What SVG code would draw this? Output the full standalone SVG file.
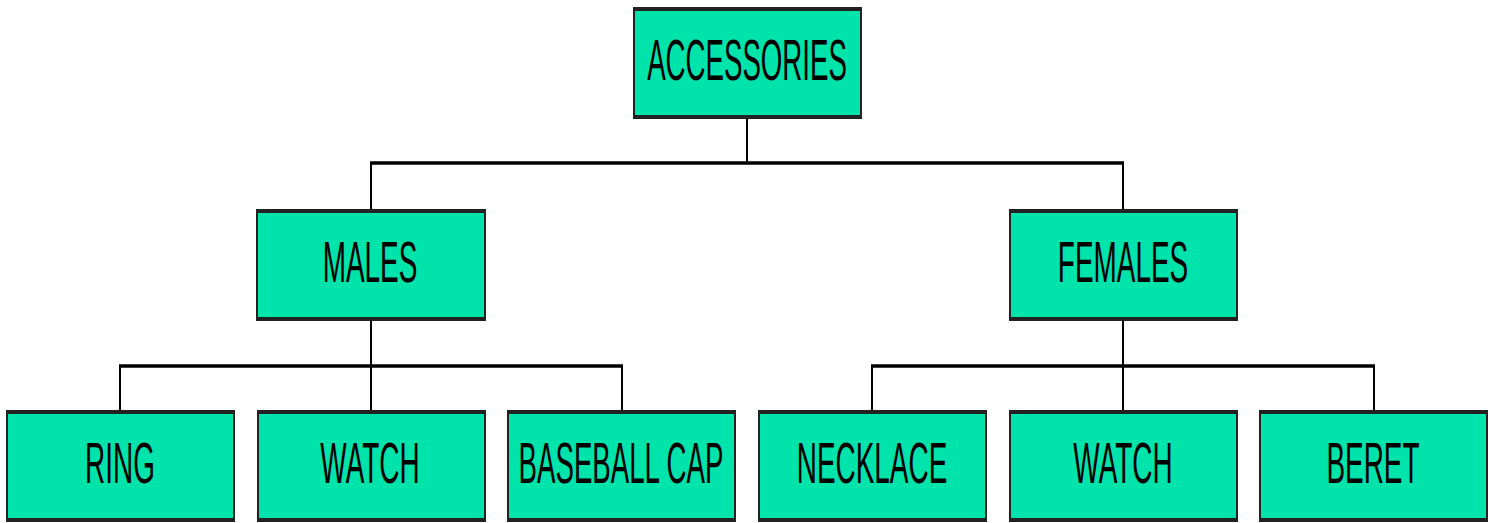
<svg xmlns="http://www.w3.org/2000/svg" width="1494" height="523" viewBox="0 0 1494 523">
<style>
.box{fill:#00E3AA;stroke:#222;stroke-width:2}
.edge{stroke:#222;stroke-width:4}
.lbl{font-family:"Liberation Sans",Arial,sans-serif;font-size:57px;fill:#000;text-anchor:middle}
.conn line{stroke:#000;stroke-width:2}
.conn .bar{stroke-width:3.5}
</style>
<rect width="1494" height="523" fill="#fff"/>
<g class="conn">
<line x1="747" y1="118" x2="747" y2="163"/>
<line class="bar" x1="370" y1="163" x2="1124" y2="163"/>
<line x1="371" y1="163" x2="371" y2="210"/>
<line x1="1123" y1="163" x2="1123" y2="210"/>
<line x1="371" y1="320" x2="371" y2="411"/>
<line class="bar" x1="119" y1="366" x2="623" y2="366"/>
<line x1="120" y1="366" x2="120" y2="411"/>
<line x1="622" y1="366" x2="622" y2="411"/>
<line x1="1123" y1="320" x2="1123" y2="411"/>
<line class="bar" x1="871" y1="366" x2="1375" y2="366"/>
<line x1="872" y1="366" x2="872" y2="411"/>
<line x1="1374" y1="366" x2="1374" y2="411"/>
</g>
<g id="accessories">
<rect class="box" x="634" y="9" width="227" height="108"/>
<line class="edge" x1="633" y1="9" x2="862" y2="9"/><line class="edge" x1="633" y1="117" x2="862" y2="117"/>
<text class="lbl" transform="translate(747,80) scale(0.485,1)">ACCESSORIES</text>
</g>
<g id="males">
<rect class="box" x="257" y="211" width="228" height="108"/>
<line class="edge" x1="256" y1="211" x2="486" y2="211"/><line class="edge" x1="256" y1="319" x2="486" y2="319"/>
<text class="lbl" transform="translate(370,282) scale(0.49,1)">MALES</text>
</g>
<g id="females">
<rect class="box" x="1010" y="211" width="227" height="108"/>
<line class="edge" x1="1009" y1="211" x2="1238" y2="211"/><line class="edge" x1="1009" y1="319" x2="1238" y2="319"/>
<text class="lbl" transform="translate(1123,282) scale(0.49,1)">FEMALES</text>
</g>
<g id="ring">
<rect class="box" x="7" y="412" width="227" height="108"/>
<line class="edge" x1="6" y1="412" x2="235" y2="412"/><line class="edge" x1="6" y1="520" x2="235" y2="520"/>
<text class="lbl" transform="translate(120,483) scale(0.49,1)">RING</text>
</g>
<g id="watch-m">
<rect class="box" x="258" y="412" width="227" height="108"/>
<line class="edge" x1="257" y1="412" x2="486" y2="412"/><line class="edge" x1="257" y1="520" x2="486" y2="520"/>
<text class="lbl" transform="translate(370,483) scale(0.49,1)">WATCH</text>
</g>
<g id="baseball-cap">
<rect class="box" x="508" y="412" width="227" height="108"/>
<line class="edge" x1="507" y1="412" x2="736" y2="412"/><line class="edge" x1="507" y1="520" x2="736" y2="520"/>
<text class="lbl" transform="translate(621,483) scale(0.485,1)">BASEBALL CAP</text>
</g>
<g id="necklace">
<rect class="box" x="759" y="412" width="227" height="108"/>
<line class="edge" x1="758" y1="412" x2="987" y2="412"/><line class="edge" x1="758" y1="520" x2="987" y2="520"/>
<text class="lbl" transform="translate(872,483) scale(0.49,1)">NECKLACE</text>
</g>
<g id="watch-f">
<rect class="box" x="1010" y="412" width="227" height="108"/>
<line class="edge" x1="1009" y1="412" x2="1238" y2="412"/><line class="edge" x1="1009" y1="520" x2="1238" y2="520"/>
<text class="lbl" transform="translate(1123,483) scale(0.49,1)">WATCH</text>
</g>
<g id="beret">
<rect class="box" x="1260" y="412" width="227" height="108"/>
<line class="edge" x1="1259" y1="412" x2="1488" y2="412"/><line class="edge" x1="1259" y1="520" x2="1488" y2="520"/>
<text class="lbl" transform="translate(1373,483) scale(0.49,1)">BERET</text>
</g>
</svg>
